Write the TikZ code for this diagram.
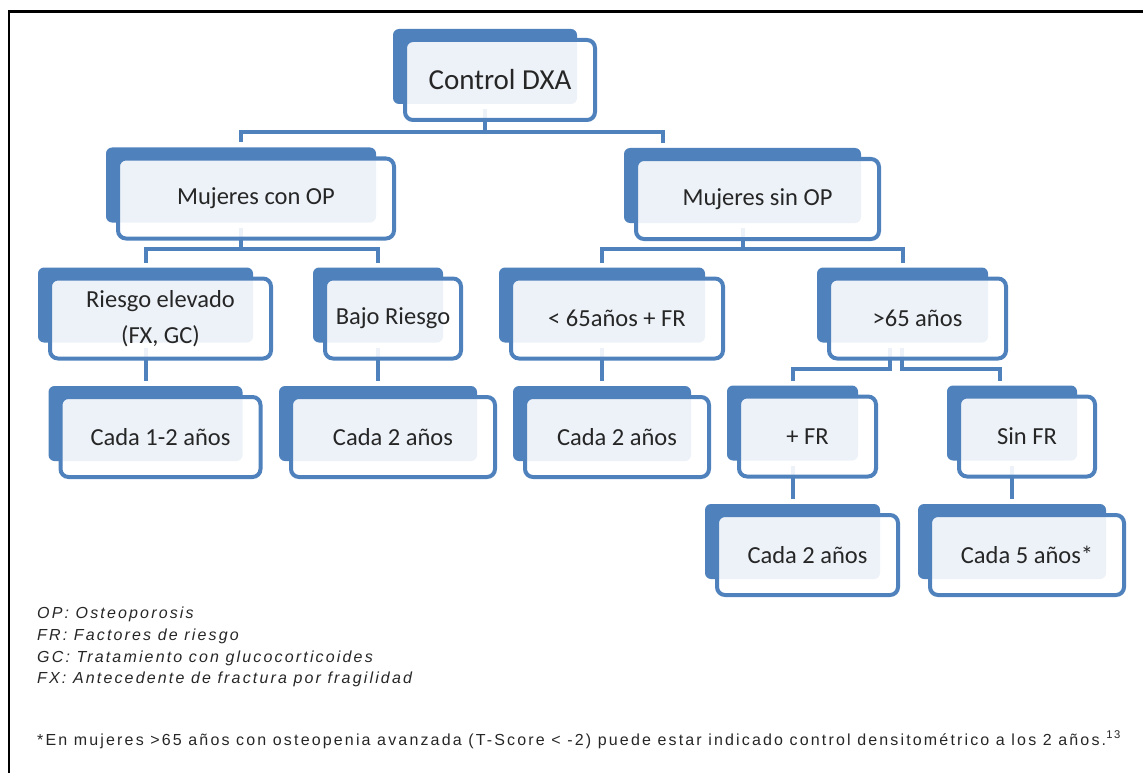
\documentclass[tikz,border=0pt]{standalone}
\usepackage{fontspec}
\setmainfont{Carlito}
\newfontfamily\notefont[LetterSpace=13.5]{Liberation Sans}
\usetikzlibrary{calc,backgrounds}
\definecolor{boxblue}{RGB}{79,129,189}
\definecolor{boxtext}{RGB}{38,38,38}

\begin{document}
\begin{tikzpicture}[x=1pt,y=-1pt,
 box/.style={draw=boxblue, line width=4pt, rounded corners=8pt, fill=white, fill opacity=.9, text opacity=1,
  text=boxtext, inner sep=0pt, outer sep=0pt, align=center, minimum height=80pt,
  font=\fontsize{24.5}{36}\selectfont},
 link/.style={boxblue, line width=4pt},
 legend/.style={anchor=base west, inner sep=0pt, text=boxtext, font=\notefont\fontsize{16}{18}\selectfont}]
\useasboundingbox (0,0) rectangle (1143,773);
\draw[line width=2.5pt] (9,773)--(9,11.5)--(1143,11.5);

\node[box, minimum width=190pt, font=\fontsize{29}{34}\selectfont] (dxa) at (500,80) {Control DXA};
\node[box, minimum width=276pt] (conop) at (256,198.5) {Mujeres con OP};
\node[box, minimum width=243pt] (sinop) at (757.5,199) {Mujeres sin OP};
\node[box, minimum width=221pt] (riesgo) at (160.5,318.5) {Riesgo elevado\\(FX, GC)};
\node[box, minimum width=136pt] (bajo) at (393,318.5) {Bajo Riesgo};
\node[box, minimum width=212pt] (menos) at (617,318.5) {{<} 65años + FR};
\node[box, minimum width=177pt] (mas) at (917.5,318.5) {>65 años};
\node[box, minimum width=200pt] (cada12) at (160.5,437) {Cada 1-2 años};
\node[box, minimum width=204pt] (cadaa) at (393,437) {Cada 2 años};
\node[box, minimum width=184pt] (cadab) at (617,437) {Cada 2 años};
\node[box, minimum width=137pt] (masfr) at (807.5,436.5) {+ FR};
\node[box, minimum width=136pt] (sinfr) at (1027,436.5) {Sin FR};
\node[box, minimum width=181pt] (cadac) at (807.5,555) {Cada 2 años};
\node[box, minimum width=194pt] (cada5) at (1027,555) {Cada 5 años*};

\begin{scope}[on background layer]
\foreach \n in {dxa,conop,sinop,riesgo,bajo,menos,mas,cada12,cadaa,cadab,masfr,sinfr,cadac,cada5}
 \fill[boxblue, rounded corners=6pt] ($(\n.north west)+(-12,-11)$) rectangle ($(\n.south east)+(-18,-16)$);
\draw[link] ($(dxa.south)+(-15,-11)$) -- ++(0,23) -| ($(conop.north)+(-15,-16)$);
\draw[link] ($(dxa.south)+(-15,12)$) -| ($(sinop.north west)+(27,-16)$);
\foreach \p/\c in {conop/riesgo,conop/bajo,sinop/menos,sinop/mas}
 \draw[link] ($(\p.south)+(-15,-11)$) -- ++(0,21) -| ($(\c.north)+(-15,-16)$);
\foreach \p/\c in {riesgo/cada12,bajo/cadaa,menos/cadab,masfr/cadac,sinfr/cada5}
 \draw[link] ($(\p.south)+(-15,-11)$) -- ($(\c.north)+(-15,-16)$);
\draw[link] ($(mas.south)+(-27.5,-11)$) -- ++(0,21) -| ($(masfr.north)+(-15,-16)$);
\draw[link] ($(mas.south)+(-15.5,-11)$) -- ++(0,21) -| ($(sinfr.north)+(-27,-16)$);
\end{scope}

\node[legend] (legop) at (37,618) {\itshape OP: Osteoporosis};
\node[legend] (legfr) at (37,640) {\itshape FR: Factores de riesgo};
\node[legend] (leggc) at (37,662) {\itshape GC: Tratamiento con glucocorticoides};
\node[legend] (legfx) at (37,683.5) {\itshape FX: Antecedente de fractura por fragilidad};
\node[legend] (nota) at (37,745) {*En mujeres >65 años con osteopenia avanzada (T-Score < -2) puede estar indicado control densitométrico a los 2 años.\textsuperscript{13}};
\end{tikzpicture}
\end{document}
